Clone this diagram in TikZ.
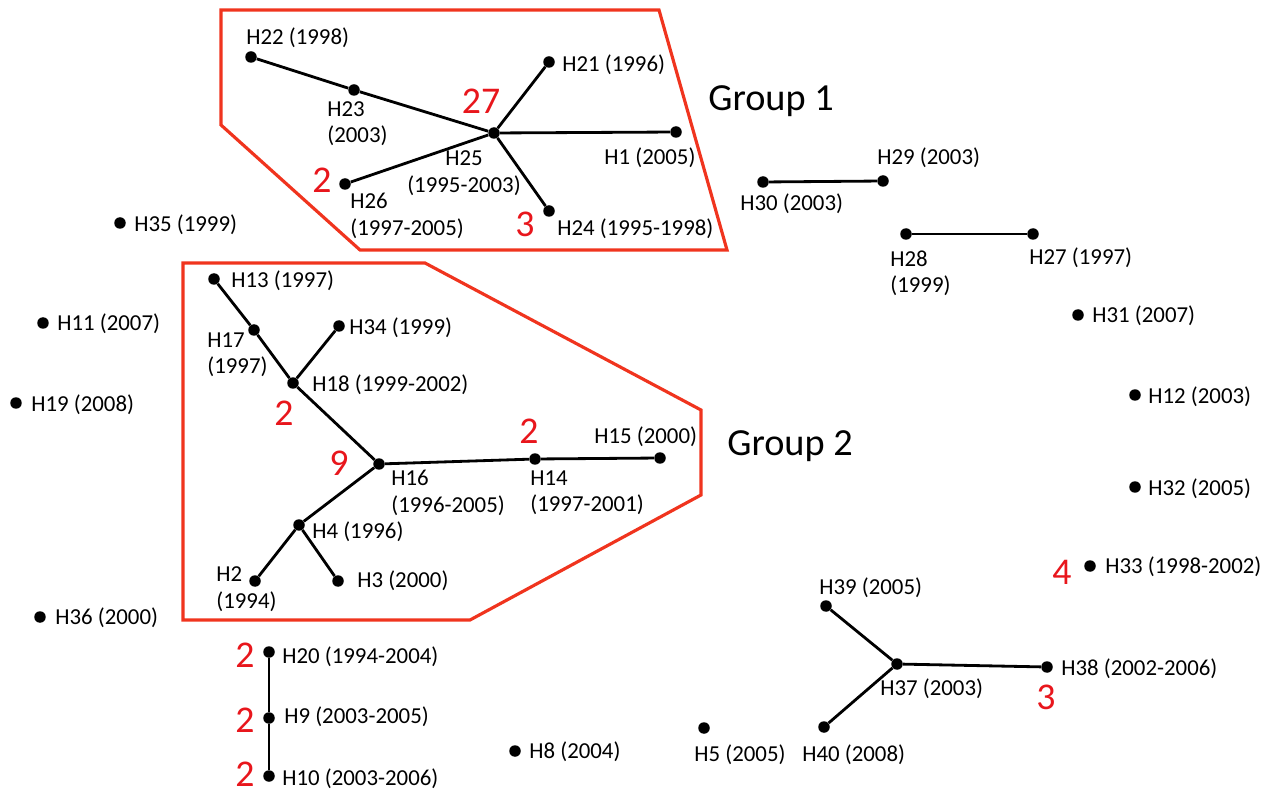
\documentclass[tikz,border=0pt]{standalone}
\usepackage{fontspec}
\setmainfont{Carlito}
\definecolor{grpred}{RGB}{240,52,30}
\definecolor{numred}{RGB}{232,22,28}
\tikzset{
  hap/.style={circle,fill=black,inner sep=0pt,minimum size=0.23cm},
  lab/.style={anchor=west,inner sep=0pt,font=\fontsize{13}{15}\selectfont,align=left},
  labc/.style={anchor=center,inner sep=0pt,font=\fontsize{13}{15}\selectfont,align=center},
  cnt/.style={anchor=center,inner sep=0pt,text=numred,font=\fontsize{21.5}{24}\selectfont},
  grp/.style={anchor=west,inner sep=0pt,font=\fontsize{21.8}{25}\selectfont},
  link/.style={line width=1.6pt},
  hull/.style={draw=grpred,line width=1.8pt,line join=miter}
}
\begin{document}
\begin{tikzpicture}[x=0.02cm,y=-0.02cm]
\useasboundingbox (0,0) rectangle (1267,793);
% group hulls
\draw[hull] (221,10) -- (659,10) -- (727,250) -- (360,250) -- (221,125) -- cycle;
\draw[hull] (183,263) -- (425,263) -- (701,410) -- (701,495) -- (470,620) -- (183,620) -- cycle;
\node[grp] (g1) at (708,101) {Group 1};
\node[grp] (g2) at (727,446) {Group 2};
% Group 1
\node[hap] (H22) at (251,57) {};
\node[hap] (H23) at (354,90) {};
\node[hap] (H25) at (494,133) {};
\node[hap] (H21) at (549,62) {};
\node[hap] (H1) at (676,132) {};
\node[hap] (H26) at (345,184) {};
\node[hap] (H24) at (549,211) {};
\draw[link] (H22) -- (H23) -- (H25);
\draw[link] (H25) -- (H21);
\draw[link] (H25) -- (H1);
\draw[link] (H25) -- (H26);
\draw[link] (H25) -- (H24);
\node[lab] (lH22) at (246,38) {H22 (1998)};
\node[lab] (lH23) at (327,124) {H23\\(2003)};
\node[labc] (lH25) at (464,173) {H25\\(1995-2003)};
\node[lab] (lH21) at (562,65) {H21 (1996)};
\node[lab] (lH1) at (604,158) {H1 (2005)};
\node[lab] (lH26) at (350,216) {H26\\(1997-2005)};
\node[lab] (lH24) at (557,229) {H24 (1995-1998)};
\node[cnt] (c25) at (481,101) {27};
\node[cnt] (c26) at (322,180) {2};
\node[cnt] (c24) at (525,224) {3};
% Group 2
\node[hap] (H13) at (214,279) {};
\node[hap] (H17) at (254,330) {};
\node[hap] (H34) at (339,326) {};
\node[hap] (H18) at (293,383) {};
\node[hap] (H16) at (379,464) {};
\node[hap] (H14) at (535,459) {};
\node[hap] (H15) at (660,458) {};
\node[hap] (H4) at (299,525) {};
\node[hap] (H2) at (255,581) {};
\node[hap] (H3) at (338,581) {};
\draw[link] (H13) -- (H17) -- (H18) -- (H16);
\draw[link] (H18) -- (H34);
\draw[link] (H16) -- (H14) -- (H15);
\draw[link] (H16) -- (H4);
\draw[link] (H4) -- (H2);
\draw[link] (H4) -- (H3);
\node[lab] (lH13) at (231,281) {H13 (1997)};
\node[lab] (lH17) at (207,355) {H17\\(1997)};
\node[lab] (lH34) at (349,328) {H34 (1999)};
\node[lab] (lH18) at (312,385) {H18 (1999-2002)};
\node[lab] (lH16) at (391,493) {H16\\(1996-2005)};
\node[lab] (lH14) at (530,493) {H14\\(1997-2001)};
\node[lab] (lH15) at (594,437) {H15 (2000)};
\node[lab] (lH4) at (312,532) {H4 (1996)};
\node[lab] (lH2) at (216,589) {H2\\(1994)};
\node[lab] (lH3) at (357,581) {H3 (2000)};
\node[cnt] (c18) at (284,413) {2};
\node[cnt] (c16) at (339,463) {9};
\node[cnt] (c14) at (529,431) {2};
% isolated left
\node[hap] (H35) at (120,223) {};
\node[lab] (lH35) at (134,225) {H35 (1999)};
\node[hap] (H11) at (43,323) {};
\node[lab] (lH11) at (57,324) {H11 (2007)};
\node[hap] (H19) at (16,403) {};
\node[lab] (lH19) at (31,405) {H19 (2008)};
\node[hap] (H36) at (40,617) {};
\node[lab] (lH36) at (55,618) {H36 (2000)};
% chain H20-H9-H10
\node[hap] (H20) at (269,652) {};
\node[hap] (H9) at (269,718) {};
\node[hap] (H10) at (269,776) {};
\draw[link] (H20) -- (H9) -- (H10);
\node[lab] (lH20) at (282,657) {H20 (1994-2004)};
\node[lab] (lH9) at (284,717) {H9 (2003-2005)};
\node[lab] (lH10) at (282,779) {H10 (2003-2006)};
\node[cnt] (c20) at (245,655) {2};
\node[cnt] (c9) at (245,720) {2};
\node[cnt] (c10) at (245,774) {2};
% bottom singles
\node[hap] (H8) at (515,751) {};
\node[lab] (lH8) at (529,752) {H8 (2004)};
\node[hap] (H5) at (704,728) {};
\node[labc] (lH5) at (740,755) {H5 (2005)};
% H37 cluster
\node[hap] (H39) at (826,606) {};
\node[hap] (H37) at (897,664) {};
\node[hap] (H38) at (1047,667) {};
\node[hap] (H40) at (824,727) {};
\draw[link] (H37) -- (H39);
\draw[link] (H37) -- (H38);
\draw[link] (H37) -- (H40);
\node[lab] (lH39) at (819,588) {H39 (2005)};
\node[lab] (lH37) at (880,689) {H37 (2003)};
\node[lab] (lH38) at (1061,669) {H38 (2002-2006)};
\node[lab] (lH40) at (802,755) {H40 (2008)};
\node[cnt] (c38) at (1046,697) {3};
% pairs on right
\node[hap] (H30) at (763,182) {};
\node[hap] (H29) at (883,181) {};
\draw[link] (H30) -- (H29);
\node[lab] (lH30) at (740,204) {H30 (2003)};
\node[lab] (lH29) at (877,158) {H29 (2003)};
\node[hap] (H28) at (906,234) {};
\node[hap] (H27) at (1033,234) {};
\draw[link] (H28) -- (H27);
\node[lab] (lH28) at (890,273) {H28\\(1999)};
\node[lab] (lH27) at (1029,258) {H27 (1997)};
% right singles
\node[hap] (H31) at (1078,315) {};
\node[lab] (lH31) at (1092,316) {H31 (2007)};
\node[hap] (H12) at (1135,395) {};
\node[lab] (lH12) at (1148,397) {H12 (2003)};
\node[hap] (H32) at (1135,487) {};
\node[lab] (lH32) at (1148,489) {H32 (2005)};
\node[hap] (H33) at (1090,566) {};
\node[lab] (lH33) at (1105,567) {H33 (1998-2002)};
\node[cnt] (c33) at (1062,572) {4};
\end{tikzpicture}
\end{document}
